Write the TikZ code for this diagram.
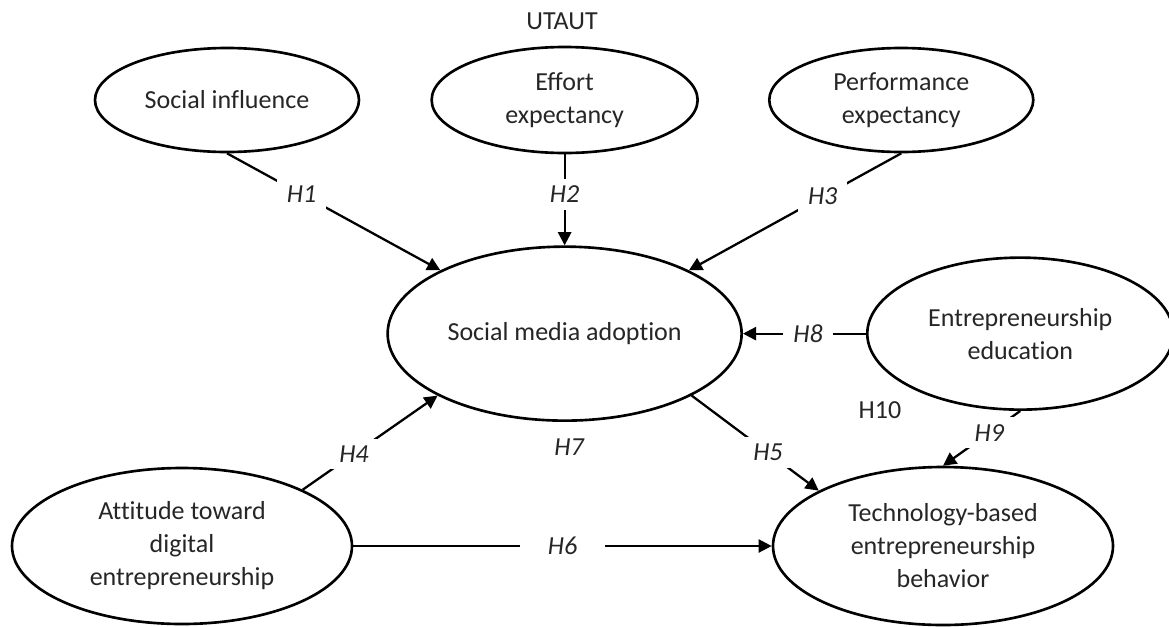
\documentclass[tikz,border=0pt]{standalone}
\usepackage{fontspec}
\setmainfont{Carlito}[Ligatures=NoCommon]
\usetikzlibrary{positioning,shapes,arrows.meta}
\newcommand{\diagramsize}{\fontsize{14.8}{18.8}\selectfont}
\tikzstyle{construct}=[
	ellipse,
	draw=black,
	line width=1.5pt,
	fill=white,
	text centered,
	align=center,
	inner sep=0pt,
	text=black!85
	]
\tikzstyle{hyp}=[
	fill=white,
	inner xsep=0.2cm,
	inner ysep=0.14cm,
	text=black!85,
	font=\diagramsize\itshape
	]

\begin{document}
\begin{tikzpicture}[font=\diagramsize,
	link/.style={line width=1.3pt, -{Triangle[length=7.5pt,width=7.5pt]}}]

		\useasboundingbox (0,0) rectangle (23.38,-12.52);

		% UTAUT constructs
		\node (UTAUT) [text=black!85] at (11.24,-0.42) {UTAUT};
		\node (SocialInfluence) [construct, minimum width=5.28cm, minimum height=2.08cm] at (4.54,-2.00) {Social influence};
		\node (EffortExp) [construct, minimum width=5.32cm, minimum height=2.12cm, right=1.40cm of SocialInfluence] {Effort\\expectancy};
		\node (PerformanceExp) [construct, minimum width=5.28cm, minimum height=2.08cm, right=1.38cm of EffortExp] {Performance\\expectancy};

		\node (SocialMedia) [construct, minimum width=7.08cm, minimum height=3.48cm, below=1.82cm of EffortExp] {Social media adoption};
		\node (EntEducation) [construct, minimum width=6.12cm, minimum height=3.04cm, right=2.46cm of SocialMedia] {Entrepreneurship\\education};

		\node (Attitude) [construct, minimum width=6.80cm, minimum height=3.12cm] at (3.64,-10.92) {Attitude toward\\digital\\entrepreneurship};
		\node (TechBehavior) [construct, minimum width=6.80cm, minimum height=3.16cm] at (18.86,-10.92) {Technology-based\\entrepreneurship\\behavior};

		\node (H7) [hyp] at (11.38,-8.94) {H7};
		\node (H10) [text=black!85] at (17.60,-8.20) {H10};

		\draw[link] (SocialInfluence.south) -- node[hyp, pos=0.35] {H1} (SocialMedia.153);
		\draw[link] (EffortExp.south) -- node[hyp, pos=0.44] {H2} (SocialMedia.north);
		\draw[link] (PerformanceExp.south) -- node[hyp, pos=0.37] {H3} (SocialMedia.27);
		\draw[link] (Attitude.25) -- node[hyp, pos=0.38] {H4} (SocialMedia.206);
		\draw[link] (SocialMedia.334) -- node[hyp, pos=0.6] {H5} (TechBehavior.156);
		\draw[link] (Attitude.east) -- node[hyp, inner xsep=0.56cm] {H6} (TechBehavior.west);
		\draw[link] (EntEducation.west) -- node[hyp, pos=0.47] {H8} (SocialMedia.east);
		\draw[link] (EntEducation.south) -- node[hyp, pos=0.4] {H9} (TechBehavior.north);

	\end{tikzpicture}
\end{document}
